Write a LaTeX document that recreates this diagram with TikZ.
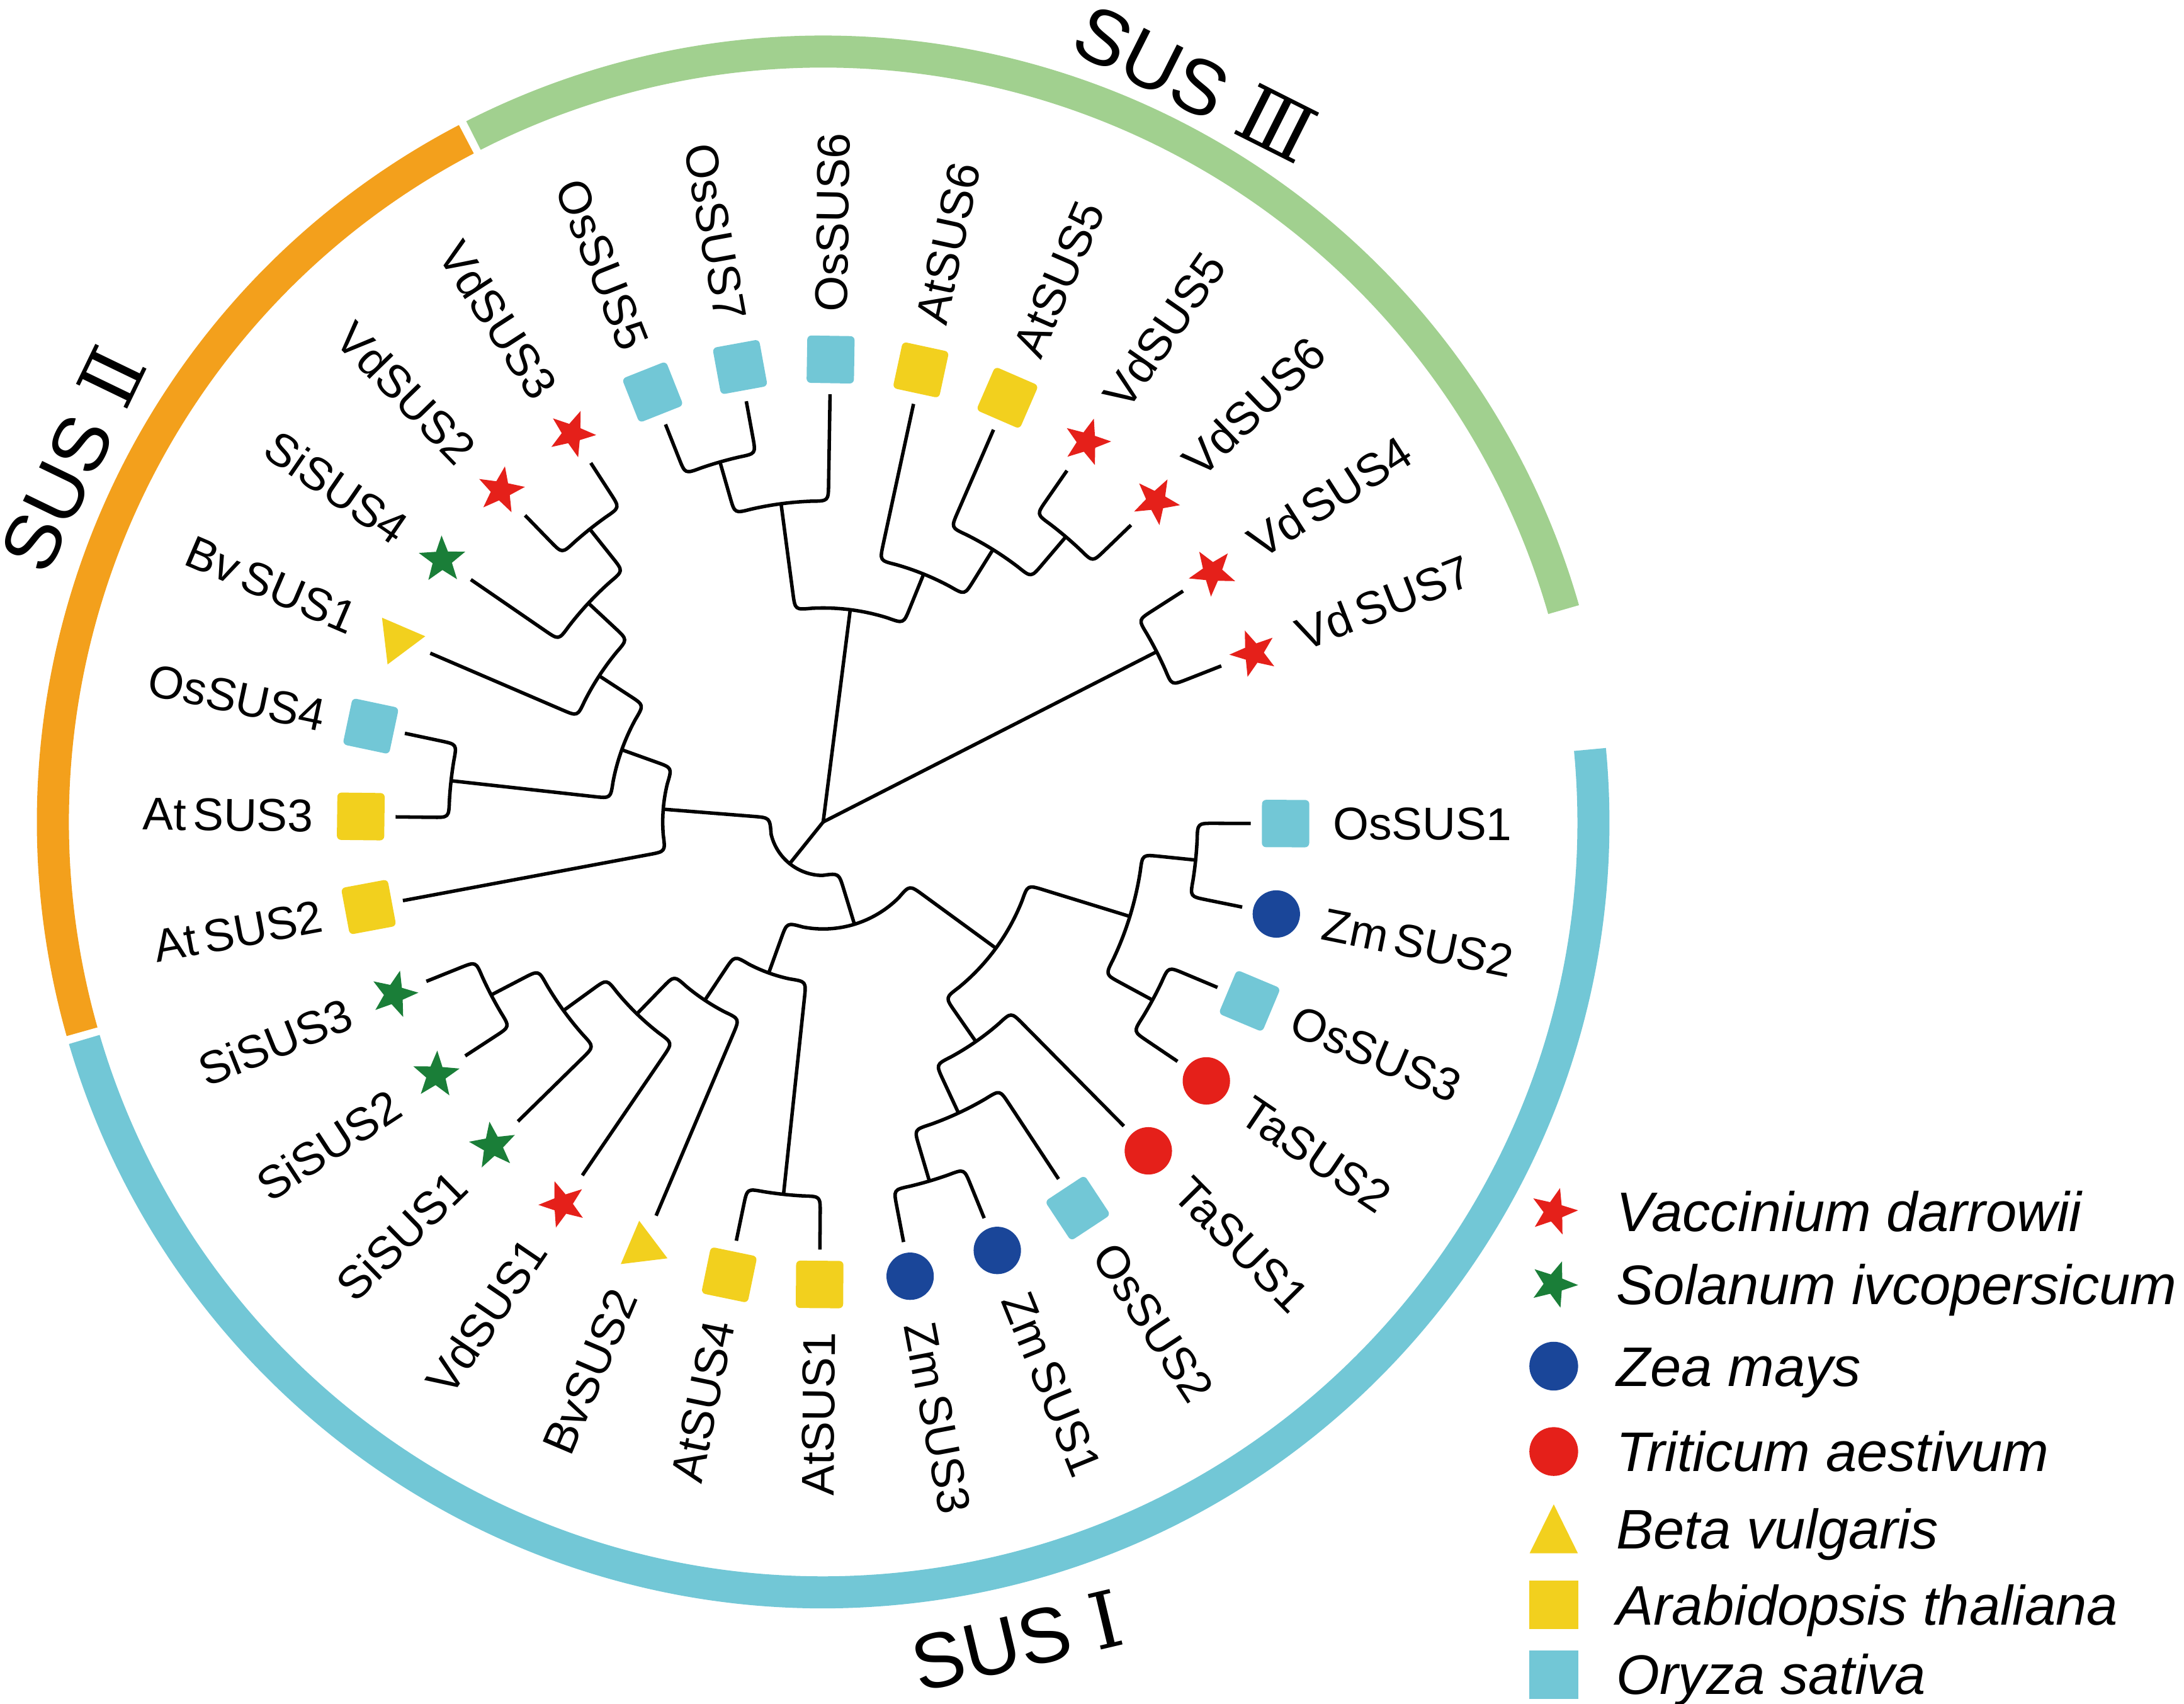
\documentclass[tikz,border=0pt]{standalone}
\usepackage{fontspec}
\setmainfont{Liberation Sans}
\newfontfamily\numfont{DejaVu Serif}
\usepackage{tikz}
\usetikzlibrary{shapes.geometric}

\definecolor{riceblue}{HTML}{72C7D6}
\definecolor{cressyellow}{HTML}{F2D01E}
\definecolor{berryred}{HTML}{E5201A}
\definecolor{tomatogreen}{HTML}{1A7E38}
\definecolor{maizeblue}{HTML}{1A4699}
\definecolor{cladegreen}{HTML}{A1D08F}
\definecolor{cladeorange}{HTML}{F3A01C}

\tikzset{
	branch/.style={line width=2.5pt,line join=round},
	ricebox/.style={rectangle,rounded corners=3pt,fill=riceblue,minimum size=34pt,inner sep=0pt},
	cressbox/.style={ricebox,fill=cressyellow},
	berrystar/.style={star,star points=5,star point ratio=2.4,fill=berryred,minimum size=35pt,inner sep=0pt},
	tomatostar/.style={berrystar,fill=tomatogreen},
	maizedot/.style={circle,fill=maizeblue,minimum size=34pt,inner sep=0pt},
	wheatdot/.style={maizedot,fill=berryred},
	beettri/.style={regular polygon,regular polygon sides=3,shape border rotate=-240,fill=cressyellow,minimum size=39pt,inner sep=0pt},
	keybox/.style={rectangle,minimum size=35pt,inner sep=0pt},
	keytri/.style={regular polygon,regular polygon sides=3,fill=cressyellow,minimum size=40pt,yscale=1.17,inner sep=0pt},
	leaflabel/.style={inner sep=0pt,font=\fontsize{33}{33}\selectfont},
	cladebar/.style={line width=23pt},
	cladelabel/.style={inner sep=0pt,font=\fontsize{56}{56}\selectfont},
	keytext/.style={anchor=base west,inner sep=0pt,font=\fontsize{40}{40}\selectfont\itshape}
}

\newcommand\cladebend{12}
\newcommand\clade[5]{%
	\pgfmathsetmacro\cladeoff{((#4<#1) ? -1 : 1)*\cladebend/#3*180/pi}%
	\pgfmathsetmacro\cladeA{#1+(\cladeoff)}%
	\pgfmathsetmacro\cladeB{#4-(\cladeoff)}%
	\pgfmathsetmacro\cladeR{#3+\cladebend}%
	\draw[branch] (#1:#2) -- (#1:\cladeR) .. controls (#1:#3) .. (\cladeA:#3)
		arc[start angle=\cladeA,end angle=\cladeB,radius=#3]
		.. controls (#4:#3) .. (#4:\cladeR) -- (#4:#5);
}

\begin{document}
\begin{tikzpicture}[x=1pt,y=1pt]
	\useasboundingbox (-591,-633) rectangle (977,590);
	
	\draw[cladebar,riceblue] (5.4:553) arc[start angle=5.4,end angle=-163.6,radius=553];
	\draw[cladebar,cladeorange] (195.8:553) arc[start angle=195.8,end angle=117.6,radius=553];
	\draw[cladebar,cladegreen] (117.0:553) arc[start angle=117.0,end angle=16,radius=553];
	
	\node[cladelabel,rotate=-26.7] (sus3) at (63.26:594) {SUS {\numfont Ⅲ}};
	\node[cladelabel,rotate=64.2] (sus2) at (154.2:599) {SUS {\numfont Ⅱ}};
	\node[cladelabel,rotate=13.3] (sus1) at (-76.7:604) {SUS {\numfont Ⅰ}};
	
	\clade{-248.36}{307}{268.8}{-259.64}{307}
	\clade{-254}{268.8}{230.4}{-270.92}{307}
	\clade{-304.76}{307}{268.8}{-316.04}{307}
	\clade{-293.48}{307}{230.4}{-310.4}{268.8}
	\clade{-282.2}{307}{192}{-301.94}{230.4}
	\clade{-262.46}{230.4}{153.6}{-292.07}{192}
	\clade{-327.32}{307}{268.8}{-338.6}{307}
	
	\clade{-225.8}{307}{268.8}{-237.08}{307}
	\clade{-214.52}{307}{230.4}{-231.44}{268.8}
	\clade{-203.24}{307}{192}{-222.98}{230.4}
	\clade{-180.68}{307}{268.8}{-191.96}{307}
	\clade{-186.32}{268.8}{153.6}{-213.11}{192}
	\clade{-169.4}{307}{115.2}{-199.72}{153.6}
	
	\clade{-0.2}{307}{268.8}{-11.48}{307}
	\clade{-22.76}{307}{268.8}{-34.04}{307}
	\clade{-5.84}{268.8}{230.4}{-28.4}{268.8}
	\clade{-67.88}{307}{268.8}{-79.16}{307}
	\clade{-56.6}{307}{230.4}{-73.52}{268.8}
	\clade{-45.32}{307}{192}{-65.06}{230.4}
	\clade{-17.12}{230.4}{153.6}{-55.19}{192}
	\clade{-90.44}{307}{268.8}{-101.72}{307}
	\clade{-146.84}{307}{268.8}{-158.12}{307}
	\clade{-135.56}{307}{230.4}{-152.48}{268.8}
	\clade{-124.28}{307}{192}{-144.02}{230.4}
	\clade{-113.0}{307}{153.6}{-134.15}{192}
	\clade{-96.08}{268.8}{115.2}{-123.58}{153.6}
	\clade{-36.16}{153.6}{76.8}{-109.83}{115.2}
	\clade{-73.0}{76.8}{38.4}{-184.56}{115.2}
	
	\coordinate (root) at (0,0);
	\coordinate (outgroup) at (-128.78:38.4);
	\coordinate (sus3core) at (-277.27:153.6);
	\coordinate (vdpair) at (-332.96:268.8);
	\draw[branch] (root) -- (outgroup);
	\draw[branch] (root) -- (sus3core);
	\draw[branch] (root) -- (vdpair);
	
	\foreach \ang/\gene/\kind/\txt in {
		-0.2/OsSUS1/ricebox/OsSUS1,
		-11.48/ZmSUS2/maizedot/Zm\kern5pt SUS2,
		-22.76/OsSUS3/ricebox/OsSUS3,
		-34.04/TaSUS2/wheatdot/TaSUS2,
		-45.32/TaSUS1/wheatdot/TaSUS1,
		-56.6/OsSUS2/ricebox/OsSUS2,
		-67.88/ZmSUS1/maizedot/Zm\kern5pt SUS1,
		-79.16/ZmSUS3/maizedot/Zm\kern5pt SUS3,
		-90.44/AtSUS1/cressbox/AtSUS1,
		-101.72/AtSUS4/cressbox/AtSUS4,
		-113.0/BvSUS2/beettri/BvSUS2,
		-124.28/VdSUS1/berrystar/VdSUS1,
		-135.56/SiSUS1/tomatostar/SiSUS1,
		-146.84/SiSUS2/tomatostar/SiSUS2,
		-158.12/SiSUS3/tomatostar/SiSUS3,
		-169.4/AtSUS2/cressbox/At\kern5pt SUS2,
		-180.68/AtSUS3/cressbox/At\kern5pt SUS3,
		-191.96/OsSUS4/ricebox/OsSUS4,
		-203.24/BvSUS1/beettri/Bv\kern5pt SUS1,
		-214.52/SiSUS4/tomatostar/SiSUS4,
		-225.8/VdSUS2/berrystar/VdSUS2,
		-237.08/VdSUS3/berrystar/VdSUS3,
		-248.36/OsSUS5/ricebox/OsSUS5,
		-259.64/OsSUS7/ricebox/OsSUS7,
		-270.92/OsSUS6/ricebox/OsSUS6,
		-282.2/AtSUS6/cressbox/AtSUS6,
		-293.48/AtSUS5/cressbox/AtSUS5,
		-304.76/VdSUS5/berrystar/VdSUS5,
		-316.04/VdSUS6/berrystar/VdSUS6,
		-327.32/VdSUS4/berrystar/Vd\kern5pt SUS4,
		-338.6/VdSUS7/berrystar/Vd\kern5pt SUS7}{
		\node[\kind,rotate=\ang] (m-\gene) at (\ang:332) {};
		\pgfmathtruncatemacro\flip{and(\ang<-90,\ang>-270)}
		\ifnum\flip=1
			\node[leaflabel,anchor=east,rotate=\ang+180] (l-\gene) at (\ang:366) {\txt};
		\else
			\node[leaflabel,anchor=west,rotate=\ang] (l-\gene) at (\ang:366) {\txt};
		\fi
	}
	
	\node[berrystar,rotate=-15] (keyVd) at (524.5,-279.7) {};
	\node[keytext] (txtVd) at (569.3,-294.0) {Vaccinium darrowii};
	\node[tomatostar,rotate=-20] (keySl) at (524.5,-331.8) {};
	\node[keytext] (txtSl) at (569.3,-346.1) {Solanum ivcopersicum};
	\node[maizedot,minimum size=35pt] (keyZm) at (524.5,-390.6) {};
	\node[keytext] (txtZm) at (569.3,-404.9) {Zea mays};
	\node[wheatdot,minimum size=35pt] (keyTa) at (524.5,-451.9) {};
	\node[keytext] (txtTa) at (569.3,-466.2) {Triticum aestivum};
	\node[keytri] (keyBv) at (524.5,-513.2) {};
	\node[keytext] (txtBv) at (569.3,-521.6) {Beta vulgaris};
	\node[keybox,fill=cressyellow] (keyAt) at (524.5,-562) {};
	\node[keytext] (txtAt) at (569.3,-576.3) {Arabidopsis thaliana};
	\node[keybox,fill=riceblue] (keyOs) at (524.5,-612) {};
	\node[keytext] (txtOs) at (569.3,-626.3) {Oryza sativa};
\end{tikzpicture}
\end{document}
